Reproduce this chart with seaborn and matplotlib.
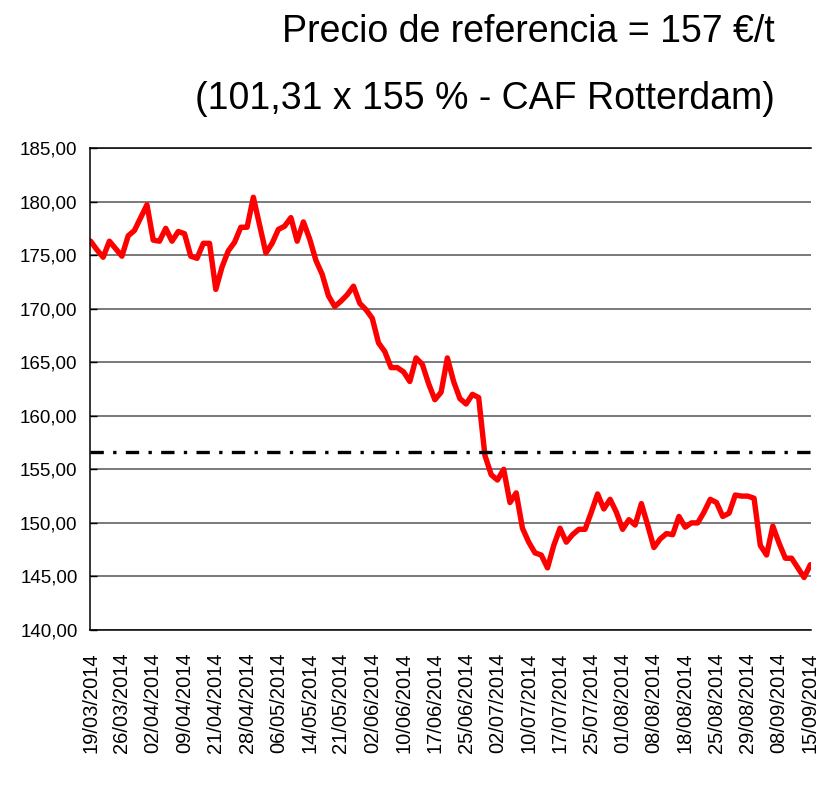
import matplotlib
matplotlib.use("Agg")
from matplotlib import pyplot as plt
from matplotlib.ticker import FixedLocator, FuncFormatter
import pandas as pd
import seaborn as sns

# Precios (una cotizacion por punto)
precios = [
    176.3, 175.5, 174.8, 176.3, 175.6, 174.9, 176.8, 177.3, 178.5, 179.7,
    176.4, 176.3, 177.5, 176.3, 177.2, 177.0, 174.9, 174.7, 176.1, 176.1,
    171.8, 173.9, 175.4, 176.2, 177.6, 177.6, 180.4, 177.8, 175.2, 176.1,
    177.4, 177.7, 178.5, 176.3, 178.1, 176.5, 174.5, 173.2, 171.2, 170.2,
    170.7, 171.3, 172.1, 170.5, 169.9, 169.1, 166.8, 166.0, 164.5, 164.5,
    164.1, 163.2, 165.4, 164.8, 163.0, 161.5, 162.2, 165.4, 163.2, 161.6,
    161.1, 162.0, 161.7, 156.3, 154.5, 154.0, 155.0, 151.9, 152.8, 149.5,
    148.2, 147.2, 147.0, 145.8, 147.9, 149.5, 148.2, 148.9, 149.4, 149.4,
    151.0, 152.7, 151.3, 152.2, 151.0, 149.4, 150.3, 149.8, 151.8, 149.8,
    147.7, 148.5, 149.0, 148.9, 150.6, 149.6, 150.0, 150.0, 151.0, 152.2,
    151.9, 150.6, 150.9, 152.6, 152.5, 152.5, 152.3, 147.9, 147.0, 149.7,
    148.1, 146.7, 146.7, 145.8, 144.9, 146.1,
]

# Etiquetas del eje x (una cada 5 cotizaciones)
fechas = [
    "19/03/2014", "26/03/2014", "02/04/2014", "09/04/2014", "21/04/2014",
    "28/04/2014", "06/05/2014", "14/05/2014", "21/05/2014", "02/06/2014",
    "10/06/2014", "17/06/2014", "25/06/2014", "02/07/2014", "10/07/2014",
    "17/07/2014", "25/07/2014", "01/08/2014", "08/08/2014", "18/08/2014",
    "25/08/2014", "29/08/2014", "08/09/2014", "15/09/2014",
]

precio_referencia = 156.6
titulo_1 = "Precio de referencia = 157 €/t"
titulo_2 = "(101,31 x 155 % - CAF Rotterdam)"

df = pd.DataFrame({"punto": range(len(precios)), "precio": precios})

sns.set_style("white")
plt.rcParams["font.family"] = ["Liberation Sans", "DejaVu Sans"]
plt.rcParams["text.color"] = "black"
plt.rcParams["xtick.color"] = "black"
plt.rcParams["ytick.color"] = "black"

fig = plt.figure(figsize=(8.23, 7.93), dpi=100)
ax = fig.add_axes([90 / 823, 1 - 630 / 793, 721 / 823, 482 / 793])

sns.lineplot(data=df, x="punto", y="precio", ax=ax, color="#ff0000", linewidth=3.9)
ax.axhline(precio_referencia, color="black", linewidth=2.4, dashes=(4, 2.8, 1, 2.8))

ax.set_xlim(-0.1, len(precios) - 0.9)
ax.set_ylim(140, 185)
ax.set_yticks(range(140, 186, 5))
ax.yaxis.set_major_formatter(FuncFormatter(lambda v, p: f"{v:.2f}".replace(".", ",")))
ax.grid(axis="y", color="#555555", linewidth=1.1)
ax.set_axisbelow(True)

# etiquetas cada 5 puntos, marcas cada 8 puntos
ax.xaxis.set_major_locator(FixedLocator([i * 5 for i in range(len(fechas))]))
ax.set_xticklabels(fechas, rotation=90, va="top", ha="center")
ax.xaxis.set_minor_locator(FixedLocator(range(0, len(precios), 8)))
ax.tick_params(axis="x", which="major", length=0, pad=16, labelsize=14.5, labelcolor="black")
ax.tick_params(axis="x", which="minor", length=6, width=1, direction="out", color="black")
ax.tick_params(axis="y", which="major", length=5, width=1, direction="in", pad=9, labelsize=13.5,
               left=True, labelcolor="black")

for side in ["left", "bottom", "top"]:
    ax.spines[side].set_color("black")
    ax.spines[side].set_linewidth(1.1)
ax.spines["right"].set_visible(False)
ax.set_xlabel("")
ax.set_ylabel("")

fig.text(775 / 823, 1 - 42.3 / 793, titulo_1, ha="right", va="baseline", fontsize=27, color="black")
fig.text(775 / 823, 1 - 109 / 793, titulo_2, ha="right", va="baseline", fontsize=27, color="black")

fig.savefig("out.png", dpi=100)
